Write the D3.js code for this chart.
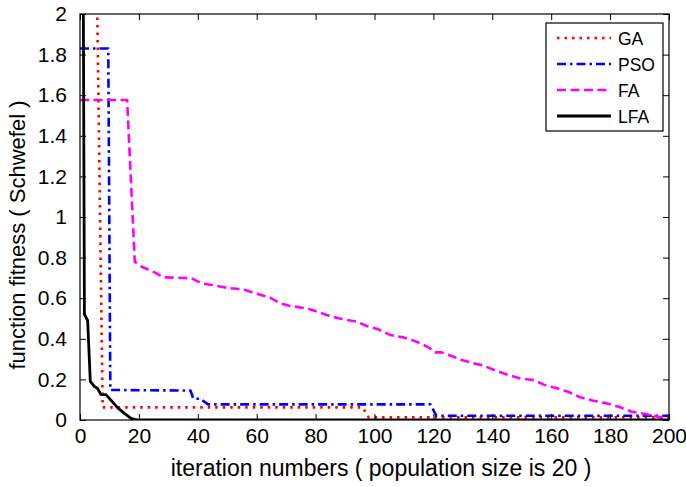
<!DOCTYPE html>
<html>
<head>
<meta charset="utf-8">
<script src="https://cdn.jsdelivr.net/npm/d3@7"></script>
<style>
  body { margin: 0; background: #fff; }
  text { font-family: "Liberation Sans", Arial, sans-serif; }
</style>
</head>
<body>
<svg id="chart" width="686" height="487"></svg>
<script>
// iteration / fitness pairs
const gaData = [[5.4, 2.5], [7.7, 0.062], [96, 0.062], [98, 0.013], [200, 0.013]];
const psoData = [[0, 1.83], [9.6, 1.83], [10.3, 0.148], [37.5, 0.145], [38.5, 0.105], [40.7, 0.105],
  [43.5, 0.077], [119, 0.077], [121, 0.021], [200, 0.021]];
const faData = [[0, 1.576], [16, 1.576], [18.6, 0.78], [20.9, 0.755], [25.5, 0.726], [28.3, 0.703],
  [37.9, 0.698], [41.3, 0.673], [50.9, 0.649], [55.5, 0.644], [59.4, 0.624], [64.5, 0.603],
  [67.9, 0.575], [71.3, 0.562], [77, 0.55], [80.4, 0.534], [84.9, 0.512], [89.4, 0.496],
  [94, 0.484], [97.3, 0.463], [100.7, 0.45], [105.3, 0.419], [109.8, 0.407], [114.3, 0.386],
  [118.3, 0.358], [120.5, 0.333], [122.8, 0.333], [126.2, 0.315], [129.6, 0.296], [133.6, 0.279],
  [137, 0.268], [141.5, 0.241], [145.4, 0.222], [149.4, 0.205], [153.9, 0.197], [157.9, 0.172],
  [161.9, 0.156], [165.8, 0.139], [169.8, 0.112], [174.3, 0.095], [178.8, 0.082], [183.4, 0.063],
  [187.3, 0.041], [190.7, 0.033], [193.5, 0.025], [196.4, 0.016], [200, 0.012]];
const lfaData = [[1.0, 2.6], [1.5, 0.52], [2.6, 0.49], [3.5, 0.19], [4.9, 0.165], [6, 0.155],
  [7.1, 0.125], [8.8, 0.125], [11, 0.09], [12.8, 0.06], [15, 0.034], [17.3, 0.008], [19.6, 0], [200, 0]];

const seriesNames = ["GA", "PSO", "FA", "LFA"];
const xTicks = [0, 20, 40, 60, 80, 100, 120, 140, 160, 180, 200];
const yTicks = [0, 0.2, 0.4, 0.6, 0.8, 1, 1.2, 1.4, 1.6, 1.8, 2];

const styles = {
  GA: { color: "#ff0000", dash: "2.5,5", width: 2.6 },
  PSO: { color: "#0000ff", dash: "9,4,2.5,4", width: 2.6 },
  FA: { color: "#ff00ff", dash: "9,4.5", width: 2.6 },
  LFA: { color: "#000000", dash: null, width: 2.8 }
};
const allData = { GA: gaData, PSO: psoData, FA: faData, LFA: lfaData };

const margin = { left: 80, top: 14, right: 17, bottom: 67 };
const width = 686, height = 487;

const svg = d3.select("#chart");

const x = d3.scaleLinear().domain([0, 200]).range([margin.left, width - margin.right]);
const y = d3.scaleLinear().domain([0, 2]).range([height - margin.bottom, margin.top]);

svg.append("defs").append("clipPath").attr("id", "plot-clip")
  .append("rect")
  .attr("x", x(0)).attr("y", y(2))
  .attr("width", x(200) - x(0)).attr("height", y(0) - y(2));

const line = d3.line().x(d => x(d[0])).y(d => y(d[1]));

const lines = svg.append("g").attr("clip-path", "url(#plot-clip)");
seriesNames.forEach(name => {
  const s = styles[name];
  lines.append("path")
    .datum(allData[name])
    .attr("d", line)
    .attr("fill", "none")
    .attr("stroke", s.color)
    .attr("stroke-width", s.width)
    .attr("stroke-dasharray", s.dash)
    .attr("stroke-linejoin", "round");
});

// axes, ticks pointing inward on all four sides
const tickLen = 6;
svg.append("g")
  .attr("transform", `translate(0,${y(0)})`)
  .call(d3.axisBottom(x).tickValues(xTicks).tickSizeInner(-tickLen).tickSizeOuter(0).tickPadding(8))
  .call(g => g.select(".domain").remove())
  .call(g => g.selectAll("text").attr("font-size", 21).attr("fill", "#000"));

svg.append("g")
  .attr("transform", `translate(${x(0)},0)`)
  .call(d3.axisLeft(y).tickValues(yTicks).tickFormat(d3.format("~g")).tickSizeInner(-tickLen).tickSizeOuter(0).tickPadding(13))
  .call(g => g.select(".domain").remove())
  .call(g => g.selectAll("text").attr("font-size", 21).attr("fill", "#000"));

svg.append("g")
  .attr("transform", `translate(0,${y(2)})`)
  .call(d3.axisTop(x).tickValues(xTicks).tickSizeInner(-tickLen).tickSizeOuter(0).tickFormat(""))
  .call(g => g.select(".domain").remove());

svg.append("g")
  .attr("transform", `translate(${x(200)},0)`)
  .call(d3.axisRight(y).tickValues(yTicks).tickSizeInner(-tickLen).tickSizeOuter(0).tickFormat(""))
  .call(g => g.select(".domain").remove());

svg.append("rect")
  .attr("x", x(0)).attr("y", y(2))
  .attr("width", x(200) - x(0)).attr("height", y(0) - y(2))
  .attr("fill", "none").attr("stroke", "#000").attr("stroke-width", 1.2);

// axis titles
svg.append("text")
  .attr("x", 381).attr("y", 476)
  .attr("text-anchor", "middle")
  .attr("font-size", 23)
  .text("iteration numbers ( population size is 20 )");

svg.append("text")
  .attr("transform", "translate(25,235) rotate(-90)")
  .attr("text-anchor", "middle")
  .attr("font-size", 22)
  .text("function fitness ( Schwefel )");

// legend
const legend = svg.append("g").attr("transform", "translate(546,23)");
legend.append("rect")
  .attr("width", 117).attr("height", 108)
  .attr("fill", "#fff").attr("stroke", "#000").attr("stroke-width", 1.2);

const rows = legend.selectAll("g.row")
  .data(seriesNames)
  .enter()
  .append("g")
  .attr("class", "row")
  .attr("transform", (d, i) => `translate(0,${15 + i * 26})`);

rows.append("line")
  .attr("x1", 11).attr("x2", 65)
  .attr("stroke", d => styles[d].color)
  .attr("stroke-width", d => styles[d].width)
  .attr("stroke-dasharray", d => styles[d].dash);

rows.append("text")
  .attr("x", 72).attr("y", 6.5)
  .attr("font-size", 17.5)
  .text(d => d);
</script>
</body>
</html>
